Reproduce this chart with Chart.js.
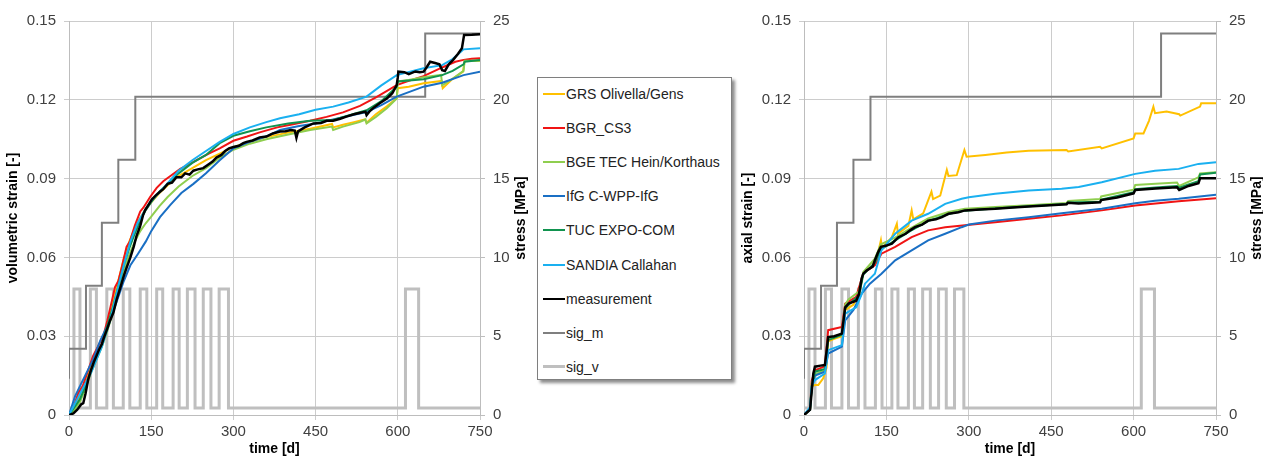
<!DOCTYPE html>
<html>
<head>
<meta charset="utf-8">
<script src="https://cdn.jsdelivr.net/npm/chart.js@4.4.1/dist/chart.umd.min.js"></script>
<style>
  body { margin: 0; background: #fff; width: 1263px; height: 459px; overflow: hidden; position: relative;
         font-family: "Liberation Sans", Arial, sans-serif; }
  canvas { position: absolute; top: 0; }
  #volChart { left: 0; }
  #axChart { left: 735px; }
  #legend { position: absolute; left: 537px; top: 77px; width: 195px; height: 303px; box-sizing: border-box;
            border: 1px solid #7f7f7f; box-shadow: 3px 3px 3px rgba(0,0,0,0.45); background: #fff; }
  .item { position: absolute; left: 5px; height: 20px; display: flex; align-items: center;
          font-size: 14px; color: #222; white-space: nowrap; }
  .swatch { width: 22px; margin-right: 1px; }
</style>
</head>
<body>
<canvas id="volChart" width="535" height="459"></canvas>
<div id="legend"></div>
<canvas id="axChart" width="528" height="459"></canvas>
<script>
// axis ticks
const timeTicks = [0, 150, 300, 450, 600, 750];
const strainTicks = [0, 0.03, 0.06, 0.09, 0.12, 0.15];
const stressTicks = [0, 5, 10, 15, 20, 25];

const seriesNames = ['GRS Olivella/Gens', 'BGR_CS3', 'BGE TEC Hein/Korthaus', 'IfG C-WPP-IfG',
  'TUC EXPO-COM', 'SANDIA Callahan', 'measurement', 'sig_m', 'sig_v'];

// loading, [time d, stress MPa] (same for both tests)
const sigM = [[0,2.3],[0,4.2],[31,4.2],[31,8.2],[60,8.2],[60,12.2],[90,12.2],[90,16.2],[121,16.2],
  [121,20.2],[650,20.2],[650,24.2],[750,24.2]];
const sigV = [[0,0.45],[9,0.45],[9,8],[20,8],[20,0.45],[39,0.45],[39,8],[50,8],[50,0.45],[69,0.45],[69,8],
  [81,8],[81,0.45],[99,0.45],[99,8],[111,8],[111,0.45],[130,0.45],[130,8],[142,8],[142,0.45],[160,0.45],
  [160,8],[171,8],[171,0.45],[190,0.45],[190,8],[201,8],[201,0.45],[216,0.45],[216,8],[230,8],[230,0.45],
  [245,0.45],[245,8],[259,8],[259,0.45],[274,0.45],[274,8],[291,8],[291,0.45],[614,0.45],[614,8],[638,8],
  [638,0.45],[750,0.45]];

// volumetric strain, [time d, strain]
const grsVol = [[0,0],[10,0.003],[20,0.007],[30,0.012],[40,0.018],[50,0.022],[60,0.027],[70,0.034],[80,0.042],
  [90,0.051],[100,0.0595],[110,0.066],[120,0.071],[130,0.075],[140,0.0785],[150,0.081],[165,0.0845],[180,0.0875],
  [200,0.091],[225,0.094],[250,0.097],[275,0.0995],[300,0.102],[330,0.104],[360,0.1058],[400,0.1075],[440,0.109],
  [480,0.1108],[482,0.1095],[500,0.1105],[520,0.1115],[540,0.1125],[543,0.1113],[560,0.1145],[580,0.1175],
  [598,0.1206],[600,0.1244],[620,0.125],[647,0.1263],[680,0.1272],[682,0.1244],[700,0.128],[719,0.1307],
  [722,0.1349],[750,0.1349]];
const bgrVol = [[0,0],[10,0.004],[17,0.0084],[25,0.011],[35,0.017],[44,0.0225],[55,0.027],[63,0.0303],[70,0.036],
  [75,0.0405],[84,0.0487],[90,0.051],[96,0.056],[105,0.064],[111,0.066],[120,0.072],[130,0.0775],[136,0.079],
  [148,0.083],[160,0.0865],[172,0.089],[185,0.091],[203,0.0937],[220,0.0955],[233,0.097],[255,0.0995],
  [275,0.1015],[300,0.1044],[325,0.106],[348,0.1076],[380,0.1095],[409,0.1107],[440,0.112],[470,0.1135],
  [500,0.1152],[531,0.1177],[561,0.121],[598,0.1256],[620,0.1272],[647,0.129],[683,0.1325],[705,0.1345],
  [720,0.1352],[735,0.1356],[750,0.1358]];
const bgeVol = [[0,0],[10,0.002],[20,0.005],[30,0.01],[40,0.016],[50,0.021],[60,0.026],[70,0.032],[80,0.039],
  [90,0.047],[100,0.055],[110,0.061],[120,0.066],[130,0.07],[140,0.073],[150,0.0755],[165,0.0795],[180,0.083],
  [200,0.087],[225,0.091],[250,0.094],[275,0.098],[300,0.101],[330,0.1033],[360,0.105],[400,0.1068],[440,0.1085],
  [480,0.1098],[482,0.1085],[500,0.1098],[530,0.1115],[541,0.1125],[543,0.111],[560,0.1135],[580,0.1168],
  [598,0.1205],[600,0.127],[620,0.1275],[647,0.1286],[679,0.1295],[681,0.1255],[700,0.128],[720,0.131],
  [722,0.1349],[750,0.1349]];
const ifgVol = [[0,0],[11,0.0071],[20,0.011],[29,0.0148],[44,0.0212],[57,0.0283],[70,0.034],[80,0.039],[90,0.045],
  [100,0.051],[112,0.057],[126,0.0614],[140,0.066],[150,0.07],[166,0.0753],[185,0.08],[205,0.0845],[227,0.088],
  [250,0.092],[275,0.097],[300,0.1015],[330,0.104],[360,0.106],[385,0.1085],[420,0.11],[450,0.111],[482,0.1125],
  [510,0.1138],[543,0.1153],[570,0.118],[598,0.1212],[647,0.125],[681,0.1265],[720,0.1294],[750,0.1307]];
const tucVol = [[0,0],[10,0.003],[20,0.006],[30,0.011],[40,0.017],[50,0.022],[60,0.027],[70,0.034],[80,0.041],
  [90,0.049],[100,0.057],[110,0.0635],[120,0.069],[130,0.074],[140,0.078],[150,0.081],[165,0.085],[180,0.088],
  [200,0.092],[225,0.096],[250,0.099],[275,0.1035],[300,0.1063],[330,0.108],[360,0.1095],[400,0.111],[440,0.112],
  [482,0.1123],[510,0.114],[543,0.116],[570,0.1195],[598,0.125],[600,0.127],[647,0.1278],[681,0.1294],[700,0.131],
  [720,0.1335],[722,0.1345],[750,0.1352]];
const sandiaVol = [[0,0],[10,0.004],[25,0.01],[40,0.016],[50,0.021],[60,0.026],[75,0.036],[90,0.049],[100,0.057],
  [112,0.066],[125,0.073],[140,0.0785],[150,0.0815],[175,0.087],[200,0.093],[225,0.097],[250,0.1005],[275,0.104],
  [300,0.107],[330,0.1095],[360,0.1115],[385,0.113],[420,0.1145],[450,0.1162],[482,0.1174],[510,0.119],
  [543,0.1212],[570,0.1255],[598,0.1294],[647,0.132],[681,0.1332],[700,0.1355],[720,0.1392],[750,0.1396]];
const measVol = [[0,0],[8,0.0006],[15,0.002],[22,0.004],[26,0.0045],[30,0.008],[35,0.0135],[40,0.017],[45,0.02],
  [50,0.0225],[55,0.025],[60,0.027],[63,0.029],[70,0.033],[75,0.036],[81,0.039],[87,0.044],[93,0.048],[100,0.053],
  [105,0.056],[112,0.06],[118,0.064],[123,0.068],[130,0.072],[135,0.076],[139,0.078],[145,0.08],[151,0.082],
  [158,0.0835],[166,0.085],[172,0.086],[180,0.088],[188,0.0885],[196,0.0905],[205,0.0905],[212,0.092],
  [220,0.0915],[227,0.093],[235,0.0935],[245,0.094],[255,0.0955],[262,0.0965],[269,0.098],[278,0.099],
  [285,0.1005],[292,0.1015],[300,0.102],[310,0.1025],[318,0.1035],[324,0.104],[335,0.1045],[348,0.1057],
  [360,0.106],[372,0.1072],[385,0.1079],[395,0.108],[405,0.1085],[412,0.1083],[415,0.1055],[418,0.108],
  [430,0.1095],[446,0.111],[460,0.1112],[470,0.112],[482,0.112],[495,0.1128],[506,0.1136],[520,0.1145],
  [530,0.115],[541,0.1155],[543,0.1142],[548,0.1155],[556,0.117],[567,0.1187],[580,0.1205],[590,0.1225],
  [598,0.1256],[600,0.1285],[601,0.1307],[612,0.1305],[620,0.1298],[632,0.1308],[640,0.1305],[647,0.1307],
  [653,0.1325],[659,0.1345],[668,0.134],[676,0.1335],[681,0.1313],[686,0.131],[693,0.1335],[701,0.1352],
  [710,0.1375],[717,0.1396],[721,0.1447],[735,0.1448],[750,0.145]];

// axial strain, [time d, strain]
const grsAx = [[0,0],[11,0.002],[14,0.011],[20,0.0114],[26,0.0114],[35,0.014],[41,0.018],[44,0.028],[55,0.029],
  [69,0.03],[75,0.04],[90,0.042],[100,0.046],[108,0.054],[125,0.057],[135,0.062],[140,0.0665],[142,0.0635],
  [160,0.0677],[169,0.0728],[171,0.069],[190,0.072],[196,0.0779],[199,0.0745],[217,0.0768],[232,0.085],
  [235,0.0822],[248,0.0835],[260,0.0933],[263,0.091],[278,0.0913],[292,0.1009],[296,0.0983],[330,0.099],
  [369,0.0999],[409,0.1006],[478,0.1009],[481,0.1003],[539,0.1021],[542,0.1015],[600,0.1053],[603,0.1072],
  [618,0.1072],[628,0.112],[636,0.1174],[639,0.1149],[660,0.1155],[683,0.1145],[685,0.114],[721,0.1174],
  [723,0.1187],[750,0.1187]];
const bgrAx = [[0,0],[11,0.002],[14,0.013],[20,0.017],[38,0.0185],[44,0.0323],[69,0.0335],[75,0.0424],[95,0.045],
  [108,0.054],[129,0.057],[141,0.0614],[166,0.064],[196,0.0677],[226,0.0703],[257,0.0715],[293,0.0722],
  [348,0.0734],[409,0.0747],[469,0.076],[542,0.0779],[603,0.0798],[682,0.0814],[750,0.0825]];
const bgeAx = [[0,0],[11,0.002],[14,0.012],[20,0.0155],[38,0.017],[44,0.029],[69,0.031],[75,0.042],[81,0.044],
  [100,0.047],[108,0.0545],[129,0.0595],[140,0.065],[166,0.0675],[193,0.071],[226,0.0748],[263,0.0773],
  [293,0.0785],[348,0.0792],[409,0.0799],[478,0.0807],[481,0.0815],[539,0.0822],[541,0.0832],[600,0.0858],
  [603,0.0876],[640,0.088],[679,0.0885],[683,0.0872],[718,0.0905],[721,0.092],[750,0.0924]];
const ifgAx = [[0,0],[11,0.002],[14,0.011],[20,0.015],[38,0.0165],[44,0.0234],[69,0.026],[75,0.036],[90,0.04],
  [105,0.0462],[120,0.05],[141,0.0538],[166,0.0589],[196,0.0627],[226,0.0665],[257,0.069],[287,0.0715],
  [300,0.0725],[348,0.074],[409,0.0753],[469,0.0768],[542,0.0785],[603,0.0806],[639,0.0816],[682,0.0823],
  [750,0.0839]];
const tucAx = [[0,0],[11,0.002],[14,0.01],[20,0.0165],[38,0.0175],[44,0.0285],[69,0.0305],[75,0.0405],[81,0.042],
  [100,0.0455],[108,0.0535],[129,0.058],[140,0.063],[166,0.0665],[193,0.07],[226,0.0738],[263,0.0765],
  [293,0.0778],[348,0.0786],[409,0.0795],[478,0.0803],[481,0.0809],[539,0.0812],[541,0.082],[600,0.0848],
  [603,0.086],[640,0.0866],[679,0.0872],[683,0.0865],[700,0.0878],[718,0.089],[721,0.0916],[750,0.0922]];
const sandiaAx = [[0,0],[11,0.003],[14,0.011],[20,0.0133],[38,0.0158],[41,0.02],[44,0.0247],[69,0.0266],
  [75,0.0386],[95,0.041],[105,0.046],[111,0.05],[129,0.0538],[141,0.0627],[166,0.069],[172,0.07],[196,0.074],
  [226,0.0766],[257,0.0804],[287,0.0823],[300,0.0829],[348,0.0842],[409,0.0855],[469,0.0861],[500,0.0868],
  [542,0.0886],[603,0.0918],[639,0.093],[682,0.0937],[718,0.0956],[750,0.0962]];
const measAx = [[0,0],[11,0.002],[14,0.009],[17,0.0158],[20,0.0184],[30,0.0188],[38,0.019],[41,0.024],
  [44,0.0297],[55,0.03],[69,0.031],[72,0.036],[75,0.041],[81,0.0424],[95,0.0435],[100,0.046],[105,0.052],
  [108,0.0538],[114,0.055],[125,0.0565],[129,0.0589],[135,0.062],[140,0.064],[150,0.0645],[160,0.0652],
  [166,0.0665],[172,0.0677],[185,0.069],[193,0.0703],[202,0.0715],[215,0.0725],[226,0.074],[240,0.0745],
  [251,0.0753],[263,0.0766],[281,0.0772],[293,0.0779],[320,0.0782],[348,0.0785],[380,0.079],[409,0.0794],
  [440,0.0798],[478,0.0802],[480,0.0808],[500,0.0805],[539,0.081],[541,0.0818],[570,0.0828],[600,0.0844],
  [603,0.0857],[640,0.0862],[679,0.0867],[683,0.0857],[700,0.0872],[718,0.0882],[721,0.0901],[750,0.0901]];

const colors = ['#ffc000', '#f01414', '#8fce4f', '#1a6fc4', '#11934f', '#1ab0f0', '#000000', '#7f7f7f', '#bfbfbf'];
const widths = [2, 2, 2, 2, 2, 2, 2.5, 2, 3];
const drawOrder = [6, 5, 4, 3, 2, 1, 0, 7, 8];
const fontFamily = '"Liberation Sans", Arial, sans-serif';

const rightTitle = {
  id: 'rightTitle',
  afterDraw(chart, args, opts) {
    const { ctx, chartArea } = chart;
    ctx.save();
    ctx.translate(opts.x, (chartArea.top + chartArea.bottom) / 2);
    ctx.rotate(-Math.PI / 2);
    ctx.font = 'bold 14px ' + fontFamily;
    ctx.fillStyle = '#000';
    ctx.textAlign = 'center';
    ctx.textBaseline = 'middle';
    ctx.fillText(opts.text, 0, 0);
    ctx.restore();
  }
};

function makeChart(id, series, strainTitle, leftW, rightW, rightX) {
  const datasets = series.map((pts, i) => ({
    label: seriesNames[i],
    data: pts.map(p => ({ x: p[0], y: p[1] })),
    yAxisID: i >= 7 ? 'stress' : 'strain',
    borderColor: colors[i],
    backgroundColor: colors[i],
    borderWidth: widths[i],
    pointRadius: 0,
    tension: 0,
    fill: false,
    order: drawOrder[i]
  }));
  const tickFont = { family: fontFamily, size: 15 };
  const titleFont = { family: fontFamily, size: 14, weight: 'bold' };
  return new Chart(document.getElementById(id), {
    type: 'line',
    data: { datasets },
    plugins: [rightTitle],
    options: {
      responsive: false,
      animation: false,
      layout: { padding: { top: 21, left: 0, right: 0, bottom: 0 } },
      plugins: {
        legend: { display: false },
        tooltip: { enabled: false },
        rightTitle: { text: 'stress [MPa]', x: rightX }
      },
      scales: {
        x: {
          type: 'linear', min: 0, max: 750,
          afterBuildTicks: ax => { ax.ticks = timeTicks.map(v => ({ value: v })); },
          afterFit: ax => { ax.height = 44; },
          ticks: { font: tickFont, color: '#404040', padding: 3, maxRotation: 0, callback: v => String(v) },
          grid: { color: '#cccccc', tickLength: 5 },
          border: { color: '#bdbdbd' },
          title: { display: true, text: 'time [d]', font: titleFont, color: '#000', padding: { top: 0, bottom: 1 } }
        },
        strain: {
          position: 'left', min: 0, max: 0.15,
          afterBuildTicks: ax => { ax.ticks = strainTicks.map(v => ({ value: v })); },
          afterFit: ax => { ax.width = leftW; },
          ticks: { font: tickFont, color: '#404040', padding: 8,
                   callback: v => v === 0 ? '0' : v.toFixed(2) },
          grid: { color: '#cccccc', tickLength: 5 },
          border: { color: '#bdbdbd' },
          title: { display: true, text: strainTitle, font: titleFont, color: '#000', padding: { top: 5, bottom: 0 } }
        },
        stress: {
          position: 'right', min: 0, max: 25,
          afterBuildTicks: ax => { ax.ticks = stressTicks.map(v => ({ value: v })); },
          afterFit: ax => { ax.width = rightW; },
          ticks: { font: tickFont, color: '#404040', padding: 8, callback: v => String(v) },
          grid: { drawOnChartArea: false, color: '#bdbdbd', tickLength: 5 },
          border: { color: '#bdbdbd' }
        }
      }
    }
  });
}

makeChart('volChart', [grsVol, bgrVol, bgeVol, ifgVol, tucVol, sandiaVol, measVol, sigM, sigV],
  'volumetric strain [-]', 69, 55, 521);
makeChart('axChart', [grsAx, bgrAx, bgeAx, ifgAx, tucAx, sandiaAx, measAx, sigM, sigV],
  'axial strain [-]', 69, 47, 522);

// legend between the two panels
const legend = document.getElementById('legend');
seriesNames.forEach((name, i) => {
  const item = document.createElement('div');
  item.className = 'item';
  item.style.top = (6 + i * 34.1) + 'px';
  const sw = document.createElement('span');
  sw.className = 'swatch';
  sw.style.borderTop = widths[i] + 'px solid ' + colors[i];
  const txt = document.createElement('span');
  txt.textContent = name;
  item.appendChild(sw);
  item.appendChild(txt);
  legend.appendChild(item);
});
</script>
</body>
</html>
